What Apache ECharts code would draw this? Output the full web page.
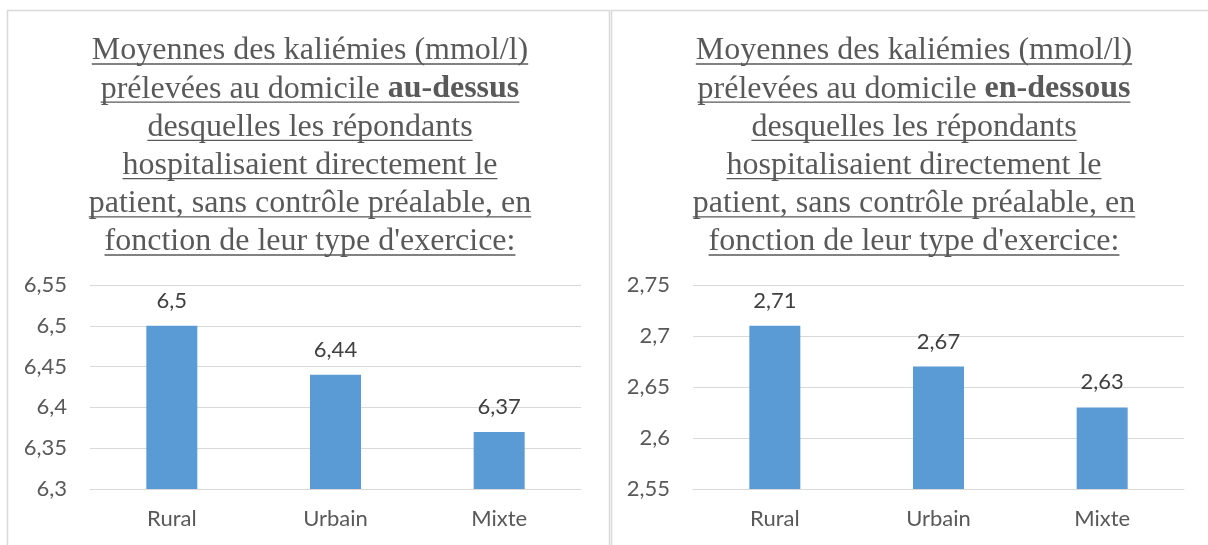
<!DOCTYPE html>
<html>
<head>
<meta charset="utf-8">
<title>Kaliémies</title>
<script src="https://cdn.jsdelivr.net/npm/echarts@6/dist/echarts.min.js"></script>
<style>
    html, body { margin: 0; padding: 0; background: #fff; }
    #main { width: 1208px; height: 545px; }
</style>
</head>
<body>
<div id="main"></div>
<script>
    var categories = ['Rural', 'Urbain', 'Mixte'];
    var valeursDessus = [6.5, 6.44, 6.37];
    var valeursDessous = [2.71, 2.67, 2.63];
    var axeDessus = [6.3, 6.55];
    var axeDessous = [2.55, 2.75];
    var pas = 0.05;

    var titreDessus = [
        [['Moyennes des kaliémies (mmol/l)', 'n']],
        [['prélevées au domicile ', 'n'], ['au-dessus', 'b']],
        [['desquelles les répondants', 'n']],
        [['hospitalisaient directement le', 'n']],
        [['patient, sans contrôle préalable, en', 'n']],
        [['fonction de leur type d\'exercice:', 'n']]
    ];
    var titreDessous = [
        [['Moyennes des kaliémies (mmol/l)', 'n']],
        [['prélevées au domicile ', 'n'], ['en-dessous', 'b']],
        [['desquelles les répondants', 'n']],
        [['hospitalisaient directement le', 'n']],
        [['patient, sans contrôle préalable, en', 'n']],
        [['fonction de leur type d\'exercice:', 'n']]
    ];

    var gris = '#595959';
    var police = 'Lato, "Open Sans", sans-serif';
    var serif = '"Liberation Serif", "Times New Roman", serif';

    function virgule(v) {
        return String(+(+v).toFixed(2)).replace('.', ',');
    }

    // mesure du texte pour le soulignement
    var ctx = document.createElement('canvas').getContext('2d');
    function largeur(txt, gras) {
        ctx.font = (gras ? 'bold ' : '') + '32px ' + serif;
        return ctx.measureText(txt).width;
    }

    function titre(lignes, cx) {
        var els = [];
        var y0 = 51, h = 38.2;
        lignes.forEach(function(ligne, i) {
            var txt = '', w = 0;
            ligne.forEach(function(p) {
                txt += '{' + p[1] + '|' + p[0] + '}';
                w += largeur(p[0], p[1] == 'b');
            });
            var y = y0 + i * h;
            els.push({
                type: 'text',
                x: cx, y: y,
                style: {
                    text: txt,
                    align: 'center',
                    verticalAlign: 'middle',
                    fill: gris,
                    font: '32px ' + serif,
                    rich: {
                        n: { fontFamily: serif, fontSize: 32, color: gris },
                        b: { fontFamily: serif, fontSize: 32, fontWeight: 'bold', color: gris }
                    }
                }
            });
            els.push({
                type: 'line',
                shape: { x1: cx - w / 2, y1: y + 13, x2: cx + w / 2, y2: y + 13 },
                style: { stroke: gris, lineWidth: 1.3 }
            });
        });
        return els;
    }

    function axeX(idx) {
        return {
            type: 'category',
            gridIndex: idx,
            data: categories,
            axisTick: { show: false },
            axisLine: { lineStyle: { color: '#d9d9d9' } },
            axisLabel: { color: gris, fontFamily: police, fontSize: 22, margin: 19 }
        };
    }

    function axeY(idx, bornes) {
        return {
            type: 'value',
            gridIndex: idx,
            min: bornes[0],
            max: bornes[1],
            interval: pas,
            axisLine: { show: false },
            axisTick: { show: false },
            splitLine: { lineStyle: { color: '#d9d9d9', width: 1 } },
            axisLabel: { color: gris, fontFamily: police, fontSize: 22, margin: 23, formatter: virgule }
        };
    }

    function serie(idx, data) {
        return {
            type: 'bar',
            xAxisIndex: idx,
            yAxisIndex: idx,
            data: data,
            barWidth: 51,
            itemStyle: { color: '#5b9bd5' },
            label: {
                show: true,
                position: 'top',
                distance: 14,
                color: '#404040',
                fontFamily: police,
                fontSize: 22,
                formatter: function(p) { return virgule(p.value); }
            }
        };
    }

    var myChart = echarts.init(document.getElementById('main'));
    var graphiques = [
        { type: 'rect', shape: { x: 7.5, y: 10.5, width: 602, height: 545 }, style: { fill: 'none', stroke: '#d9d9d9', lineWidth: 1.5 } },
        { type: 'rect', shape: { x: 611.5, y: 10.5, width: 610, height: 545 }, style: { fill: 'none', stroke: '#d9d9d9', lineWidth: 1.5 } }
    ].concat(titre(titreDessus, 310), titre(titreDessous, 914));

    var option = {
        backgroundColor: '#fff',
        animation: false,
        grid: [
            { left: 90, top: 285, width: 491, height: 204 },
            { left: 693, top: 285, width: 491, height: 204 }
        ],
        xAxis: [axeX(0), axeX(1)],
        yAxis: [axeY(0, axeDessus), axeY(1, axeDessous)],
        series: [serie(0, valeursDessus), serie(1, valeursDessous)],
        graphic: graphiques
    };
    myChart.setOption(option);
</script>
</body>
</html>
